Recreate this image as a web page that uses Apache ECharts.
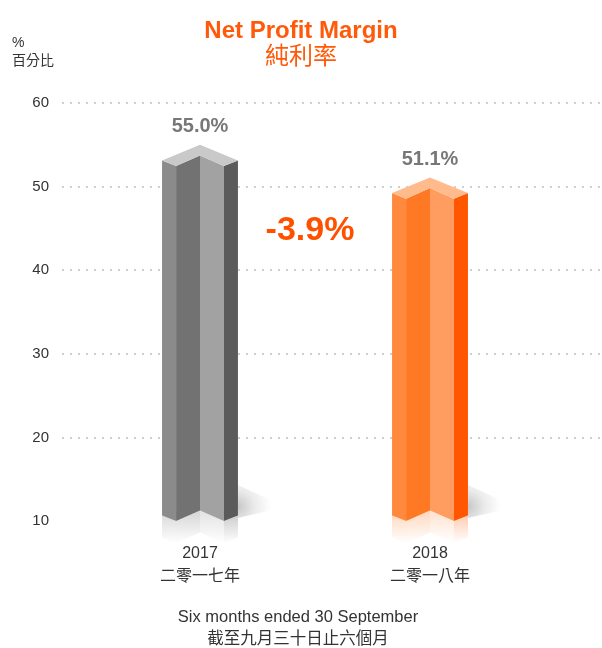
<!DOCTYPE html>
<html>
<head>
<meta charset="utf-8">
<script src="https://cdn.jsdelivr.net/npm/echarts@6/dist/echarts.min.js"></script>
<style>
  html, body { margin: 0; padding: 0; background: #fff; }
  #chart { width: 602px; height: 648px; }
</style>
</head>
<body>
<div id="chart"></div>
<script>
// data
const years = ["2017", "2018"];
const yearsZh = ["二零一七年", "二零一八年"];
const margins = [55.0, 51.1];
const changeLabel = "-3.9%";
const yTicks = [10, 20, 30, 40, 50, 60];

const font = "'Liberation Sans', Arial, 'Noto Sans CJK TC', sans-serif";

// face colours: outer-left, inner-left, inner-right, outer-right, cap
const palettes = [
    ["#8b8b8b", "#727272", "#a2a2a2", "#5b5b5b", "#c9c9c9"],
    ["#ff8a3d", "#ff7823", "#ff9d60", "#ff5600", "#ffbb8c"],
];

function renderBar(params, api) {
    const idx = api.value(0);
    const top = api.coord([idx, api.value(1)]);
    const base = api.coord([idx, yTicks[0]]);
    const cx = top[0], yp = top[1], yb = base[1];
    const hw = api.size([1, 0])[0] * 0.165;
    const iw = hw * 0.63;
    const o = 15.7, n = 21.3, c = 10.7;
    const pal = palettes[idx];

    const faces = [
        [[cx - hw, yp + o], [cx - iw, yp + n], [cx - iw, yb], [cx - hw, yb - (n - o)]],
        [[cx - iw, yp + n], [cx, yp + c], [cx, yb - (n - c)], [cx - iw, yb]],
        [[cx, yp + c], [cx + iw, yp + n], [cx + iw, yb], [cx, yb - (n - c)]],
        [[cx + iw, yp + n], [cx + hw, yp + o], [cx + hw, yb - (n - o)], [cx + iw, yb]],
    ];
    const children = [];

    // soft shadow on the right at the foot
    children.push({
        type: "polygon",
        shape: { points: [[cx + hw, yb - 36], [cx + hw + 48, yb - 14], [cx + hw, yb - 3]] },
        style: {
            fill: new echarts.graphic.RadialGradient(0, 0.65, 1, [
                { offset: 0, color: "rgba(0,0,0,0.22)" },
                { offset: 0.5, color: "rgba(0,0,0,0.08)" },
                { offset: 1, color: "rgba(0,0,0,0)" },
            ]),
        },
    });

    // reflection
    faces.forEach((f, k) => {
        const b1 = f[3], b2 = f[2];
        children.push({
            type: "polygon",
            shape: { points: [b1, b2, [b2[0], b2[1] + 22], [b1[0], b1[1] + 22]] },
            style: {
                fill: new echarts.graphic.LinearGradient(0, 0, 0, 1, [
                    { offset: 0, color: echarts.color.modifyAlpha(pal[k], 0.3) },
                    { offset: 1, color: echarts.color.modifyAlpha(pal[k], 0) },
                ]),
            },
        });
    });

    faces.forEach((f, k) => {
        children.push({ type: "polygon", shape: { points: f }, style: { fill: pal[k] } });
    });

    children.push({
        type: "polygon",
        shape: {
            points: [[cx - hw, yp + o], [cx, yp], [cx + hw, yp + o], [cx + iw, yp + n], [cx, yp + c], [cx - iw, yp + n]],
        },
        style: { fill: pal[4] },
    });

    children.push({
        type: "text",
        x: cx,
        y: yp - 18,
        style: {
            text: api.value(1).toFixed(1) + "%",
            align: "center",
            verticalAlign: "middle",
            fontFamily: font,
            fontSize: 20,
            fontWeight: "bold",
            fill: "#777",
        },
    });

    return { type: "group", children: children };
}

const chart = echarts.init(document.getElementById("chart"));

chart.setOption({
    animation: false,
    title: {
        text: "Net Profit Margin",
        subtext: "純利率",
        left: "center",
        top: 14,
        itemGap: 2,
        textStyle: { fontFamily: font, fontSize: 24, fontWeight: "bold", color: "#ff5a0a" },
        subtextStyle: { fontFamily: font, fontSize: 24, color: "#ff5a0a" },
    },
    grid: [
        { left: 62, right: 2, top: 103, bottom: 127 },
        { left: 85, width: 460, top: 103, bottom: 127 },
    ],
    xAxis: [
        { gridIndex: 0, type: "category", data: years, show: false },
        {
            gridIndex: 1,
            type: "category",
            data: years,
            axisLine: { show: false },
            axisTick: { show: false },
            axisLabel: {
                margin: 21,
                fontFamily: font,
                fontSize: 16,
                lineHeight: 23,
                color: "#333",
                formatter: (v, i) => v + "\n" + yearsZh[i],
            },
        },
    ],
    yAxis: [
        {
            gridIndex: 0,
            type: "value",
            min: yTicks[0],
            max: yTicks[yTicks.length - 1],
            interval: 10,
            axisLine: { show: false },
            axisTick: { show: false },
            axisLabel: { margin: 13, fontFamily: font, fontSize: 15, color: "#333" },
            splitLine: {
                showMinLine: false,
                lineStyle: { color: "#cfcfcf", width: 2, type: [2, 6] },
            },
        },
        {
            gridIndex: 1,
            type: "value",
            min: yTicks[0],
            max: yTicks[yTicks.length - 1],
            interval: 10,
            show: false,
        },
    ],
    graphic: [
        {
            type: "text",
            x: 12,
            y: 43,
            style: { text: "%", fontFamily: font, fontSize: 14, fill: "#333", verticalAlign: "middle" },
        },
        {
            type: "text",
            x: 12,
            y: 61,
            style: { text: "百分比", fontFamily: font, fontSize: 14, fill: "#333", verticalAlign: "middle" },
        },
        {
            type: "text",
            x: 310,
            y: 231,
            style: {
                text: changeLabel,
                fontFamily: font,
                fontSize: 34,
                fontWeight: "bold",
                fill: "#ff5000",
                align: "center",
                verticalAlign: "middle",
            },
        },
        {
            type: "text",
            x: 298,
            y: 617,
            style: {
                text: "Six months ended 30 September",
                fontFamily: font,
                fontSize: 16.5,
                fill: "#333",
                align: "center",
                verticalAlign: "middle",
            },
        },
        {
            type: "text",
            x: 298,
            y: 639,
            style: {
                text: "截至九月三十日止六個月",
                fontFamily: font,
                fontSize: 16.5,
                fill: "#333",
                align: "center",
                verticalAlign: "middle",
            },
        },
    ],
    series: [
        {
            type: "custom",
            xAxisIndex: 1,
            yAxisIndex: 1,
            clip: false,
            renderItem: renderBar,
            data: margins.map((v, i) => [i, v]),
        },
    ],
});
</script>
</body>
</html>
